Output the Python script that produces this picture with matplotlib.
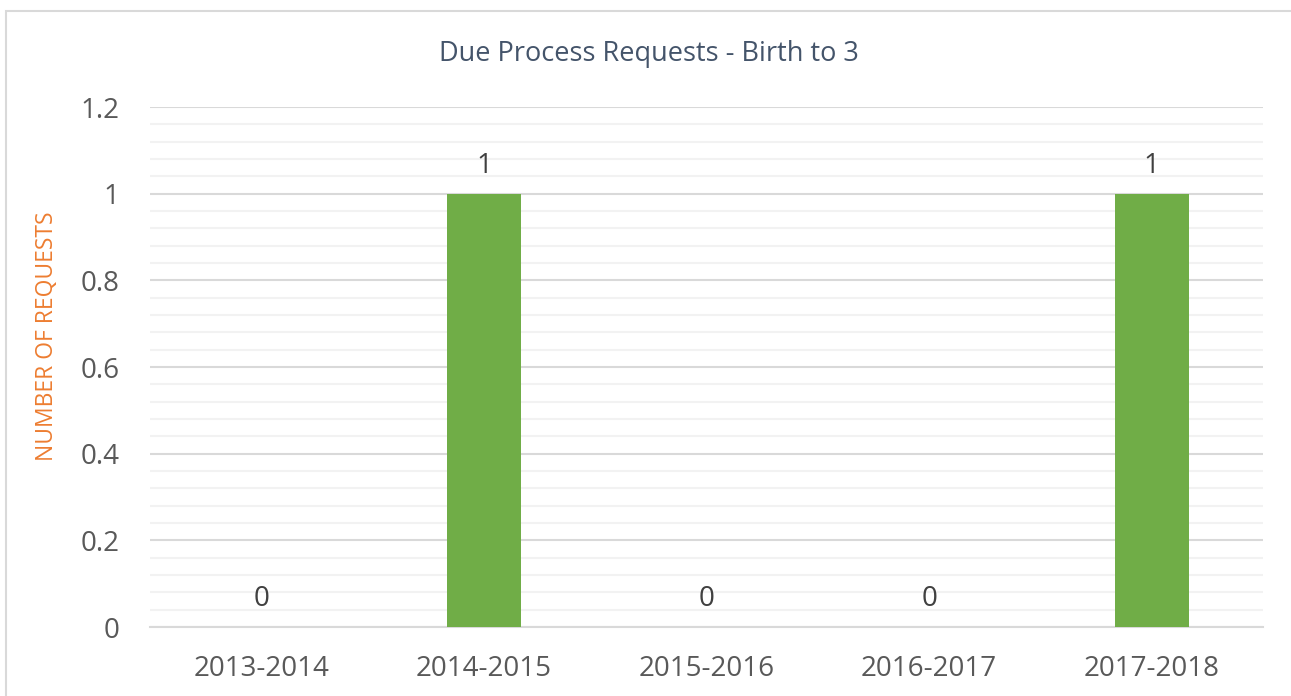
import matplotlib
matplotlib.use("Agg")
import matplotlib.pyplot as plt
from matplotlib.ticker import MultipleLocator, FixedLocator
from matplotlib.patches import Rectangle

categories = ["2013-2014", "2014-2015", "2015-2016", "2016-2017", "2017-2018"]
requests = [0, 1, 0, 0, 1]
title = "Due Process Requests - Birth to 3"
ylabel = "NUMBER OF REQUESTS"
yticks = [0, 0.2, 0.4, 0.6, 0.8, 1, 1.2]
ytick_labels = ["0", "0.2", "0.4", "0.6", "0.8", "1", "1.2"]

plt.rcParams['font.family'] = ['Open Sans', 'DejaVu Sans']

fig = plt.figure(figsize=(12.91, 6.96), dpi=100)
fig.patches.append(Rectangle((6/1291, -0.1), 1.2, 1 - 11/696 + 0.1, transform=fig.transFigure,
                             fill=False, edgecolor="#D9D9D9", linewidth=1.5))
ax = fig.add_axes([150/1291, 1 - 627/696, 1113/1291, (627 - 107)/696])

x = list(range(len(categories)))
ax.bar(x, requests, width=0.333, color="#70AD47", zorder=3)
ax.set_xlim(-0.5, len(categories) - 0.5)
ax.set_ylim(0, 1.2)

ax.yaxis.set_major_locator(FixedLocator(yticks))
ax.set_yticklabels(ytick_labels)
ax.yaxis.set_minor_locator(MultipleLocator(0.04))
ax.grid(which="major", axis="y", color="#D9D9D9", linewidth=1.5, zorder=0)
ax.grid(which="minor", axis="y", color="#F2F2F2", linewidth=1.5, zorder=0)
ax.set_axisbelow(True)

ax.set_xticks(x)
ax.set_xticklabels(categories)
ax.tick_params(axis="both", which="both", length=0, labelsize=20, labelcolor="#595959")
ax.tick_params(axis="x", pad=20)
ax.tick_params(axis="y", pad=22)

for s in ["top", "right", "left"]:
    ax.spines[s].set_visible(False)
ax.spines["bottom"].set_color("#D9D9D9")
ax.spines["bottom"].set_linewidth(1.5)

for xi, v in zip(x, requests):
    ax.annotate(str(v), (xi, v), xytext=(0, 10), textcoords="offset points",
                ha="center", va="bottom", fontsize=20, color="#404040")

fig.text(47/1291, 1 - 336/696, ylabel, rotation=90, ha="center", va="center",
         color="#ED7D31", fontsize=16.5)
fig.text(649/1291, 1 - 54/696, title, ha="center", va="center", fontsize=19.5, color="#44546A")

fig.savefig("out.png", dpi=100)
